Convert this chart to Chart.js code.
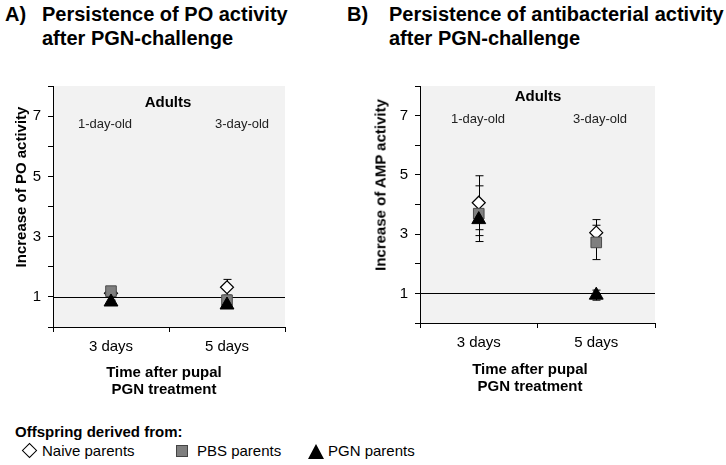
<!DOCTYPE html>
<html>
<head>
<meta charset="utf-8">
<script src="https://cdn.jsdelivr.net/npm/chart.js@4"></script>
<style>
  body { margin: 0; background: #fff; font-family: "Liberation Sans", Arial, sans-serif; }
  #page { position: relative; width: 726px; height: 465px; overflow: hidden; }
  canvas { position: absolute; }
  .t { position: absolute; white-space: nowrap; color: #000; }
  .c { transform: translate(-50%, -50%); text-align: center; }
  .title { font-weight: bold; font-size: 20px; line-height: 24px; }
  .ytitle { font-weight: bold; font-size: 15px; transform: translate(-50%, -50%) rotate(-90deg); }
  .xtitle { font-weight: bold; font-size: 15px; line-height: 17px; }
  .adults { font-weight: bold; font-size: 15px; }
  .age { font-size: 13px; color: #222; }
  .leg { font-size: 15px; }
  .sym { position: absolute; }
</style>
</head>
<body>
<div id="page">
  <canvas id="chart-po" width="310" height="330" style="left:0;top:70px"></canvas>
  <canvas id="chart-amp" width="310" height="330" style="left:365px;top:70px"></canvas>

  <div class="t title" style="left:5px;top:2px">A)</div>
  <div class="t title" style="left:42px;top:2px">Persistence of PO activity<br>after PGN-challenge</div>
  <div class="t title" style="left:347px;top:2px">B)</div>
  <div class="t title" style="left:389px;top:2px">Persistence of antibacterial activity<br>after PGN-challenge</div>

  <div class="t ytitle" style="left:20px;top:187px">Increase of PO activity</div>
  <div class="t ytitle" style="left:380px;top:185px">Increase of AMP activity</div>

  <div class="t c adults" style="left:168px;top:101px">Adults</div>
  <div class="t c age" style="left:105px;top:123px">1-day-old</div>
  <div class="t c age" style="left:242px;top:123px">3-day-old</div>
  <div class="t c adults" style="left:538px;top:95px">Adults</div>
  <div class="t c age" style="left:478px;top:118px">1-day-old</div>
  <div class="t c age" style="left:600px;top:118px">3-day-old</div>

  <div class="t c xtitle" style="left:164px;top:380px">Time after pupal<br>PGN treatment</div>
  <div class="t c xtitle" style="left:530px;top:377px">Time after pupal<br>PGN treatment</div>

  <div class="t" style="left:15px;top:423px;font-weight:bold;font-size:15px">Offspring derived from:</div>
  <div class="sym" style="left:24px;top:445px;width:9px;height:9px;border:1.5px solid #000;background:#fff;transform:rotate(45deg)"></div>
  <div class="t leg" style="left:42px;top:442px">Naive parents</div>
  <div class="sym" style="left:176px;top:445px;width:10px;height:10px;border:1px solid #444;background:#7f7f7f"></div>
  <div class="t leg" style="left:197px;top:442px">PBS parents</div>
  <div class="sym" style="left:308px;top:444px;width:0;height:0;border-left:8.5px solid transparent;border-right:8.5px solid transparent;border-bottom:15px solid #000"></div>
  <div class="t leg" style="left:328px;top:442px">PGN parents</div>
</div>

<script>
// --- data ---
var categories = ["3 days", "5 days"];
var yTickLabels = [1, 3, 5, 7];

// A) PO activity
var poNaive = [1.12, 1.32];
var poNaiveErr = [0.08, 0.26];
var poPbs = [1.19, 0.89];
var poPbsErr = [0.1, 0.1];
var poPgn = [0.83, 0.73];
var poPgnErr = [0.06, 0.08];

// B) antibacterial (AMP) activity
var ampNaive = [4.06, 3.05];
var ampNaiveErr = [0.91, 0.44];
var ampPbs = [3.69, 2.72];
var ampPbsErr = [0.94, 0.58];
var ampPgn = [3.49, 0.94];
var ampPgnErr = [0.54, 0.17];

var baseline = 1;

var plotBg = {
  id: "plotBg",
  beforeDraw: function (chart) {
    var a = chart.chartArea;
    var ctx = chart.ctx;
    ctx.save();
    ctx.fillStyle = "#f2f2f2";
    ctx.fillRect(a.left, a.top, a.right - a.left, a.bottom - a.top);
    ctx.restore();
  }
};

// reference line at 1 and error bars, drawn under the markers
var errorBars = {
  id: "errorBars",
  beforeDatasetsDraw: function (chart) {
    var ctx = chart.ctx;
    var a = chart.chartArea;
    var y = chart.scales.y;
    ctx.save();
    ctx.strokeStyle = "#000";
    ctx.lineWidth = 1;
    var yb = Math.round(y.getPixelForValue(baseline)) + 0.5;
    ctx.beginPath();
    ctx.moveTo(a.left, yb);
    ctx.lineTo(a.right, yb);
    ctx.stroke();

    chart.data.datasets.forEach(function (ds, i) {
      var meta = chart.getDatasetMeta(i);
      meta.data.forEach(function (pt, j) {
        var e = ds.errors[j];
        var x = Math.round(pt.x) + 0.5;
        var top = y.getPixelForValue(ds.data[j] + e);
        var bot = y.getPixelForValue(ds.data[j] - e);
        ctx.beginPath();
        ctx.moveTo(x, top);
        ctx.lineTo(x, bot);
        ctx.moveTo(x - 4, top);
        ctx.lineTo(x + 4, top);
        ctx.moveTo(x - 4, bot);
        ctx.lineTo(x + 4, bot);
        ctx.stroke();
      });
    });
    ctx.restore();
  }
};

function makeChart(id, naive, naiveErr, pbs, pbsErr, pgn, pgnErr, yWidth, xHeight, padRight) {
  return new Chart(document.getElementById(id), {
    type: "line",
    data: {
      labels: categories,
      datasets: [
        {
          label: "Naive parents", data: naive, errors: naiveErr, order: 2, showLine: false,
          pointStyle: "rectRot", pointRadius: 6.5, pointBackgroundColor: "#fff",
          pointBorderColor: "#000", pointBorderWidth: 1.2
        },
        {
          label: "PBS parents", data: pbs, errors: pbsErr, order: 1, showLine: false,
          pointStyle: "rect", pointRadius: 7.5, pointBackgroundColor: "#7f7f7f",
          pointBorderColor: "#4a4a4a", pointBorderWidth: 1
        },
        {
          label: "PGN parents", data: pgn, errors: pgnErr, order: 0, showLine: false,
          pointStyle: "triangle", pointRadius: 8, pointBackgroundColor: "#000",
          pointBorderColor: "#000", pointBorderWidth: 1
        }
      ]
    },
    options: {
      responsive: false,
      animation: false,
      layout: { padding: { top: 15, right: padRight, left: 0, bottom: 0 } },
      plugins: { legend: { display: false }, tooltip: { enabled: false } },
      scales: {
        x: {
          type: "category",
          offset: true,
          afterFit: function (s) { s.height = xHeight; },
          grid: { offset: true, drawOnChartArea: false, drawTicks: true, tickLength: 5, color: "#000" },
          border: { color: "#000", width: 1 },
          ticks: { color: "#000", padding: 6, font: { family: "Liberation Sans", size: 15 } }
        },
        y: {
          min: 0,
          max: 8,
          afterFit: function (s) { s.width = yWidth; },
          grid: { drawOnChartArea: false, drawTicks: true, tickLength: 5, color: "#000" },
          border: { color: "#000", width: 1 },
          ticks: {
            stepSize: 1,
            color: "#000",
            padding: 7,
            font: { family: "Liberation Sans", size: 15 },
            callback: function (v) { return yTickLabels.indexOf(v) >= 0 ? v : ""; }
          }
        }
      }
    },
    plugins: [plotBg, errorBars]
  });
}

makeChart("chart-po", poNaive, poNaiveErr, poPbs, poPbsErr, poPgn, poPgnErr, 53, 73, 25);
makeChart("chart-amp", ampNaive, ampNaiveErr, ampPbs, ampPbsErr, ampPgn, ampPgnErr, 55, 77, 20);
</script>
</body>
</html>
